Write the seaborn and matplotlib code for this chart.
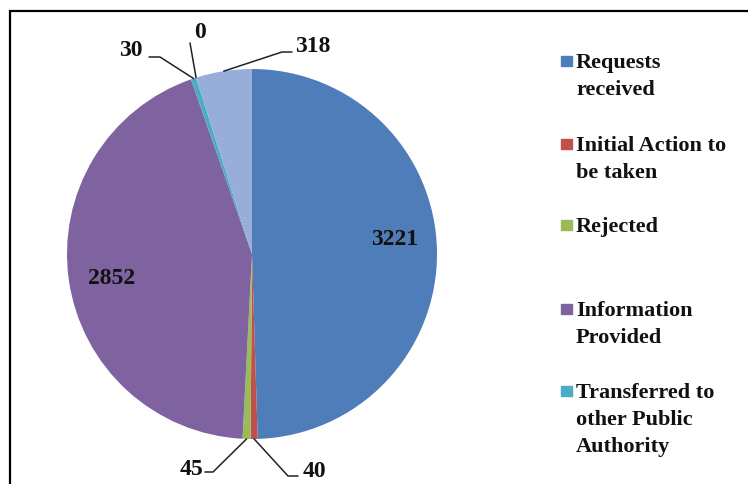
import numpy as np
import matplotlib
matplotlib.use("Agg")
import matplotlib.pyplot as plt
import seaborn as sns
from matplotlib.patches import Rectangle

# =========================
# DATA
# =========================

categories = ["Requests received", "Initial Action to be taken", "Rejected",
              "Information Provided", "Transferred to other Public Authority",
              "Pending", "Others"]
values = [3221, 40, 45, 2852, 30, 0, 318]
colors = ["#4F7DBA", "#C0504D", "#9BBB59", "#7F63A1", "#4BACC6", "#F79646", "#97AED8"]

# legend text as wrapped in the reference (only first five shown)
legend_lines = [["Requests", "received"],
                ["Initial Action to", "be taken"],
                ["Rejected"],
                ["Information", "Provided"],
                ["Transferred to", "other Public", "Authority"]]
legend_y = [62, 145, 226, 310, 392]   # pixel rows of first line

# label layout (pixels): text centre, and elbow of the leader line (None = inside)
label_pos = {3221: (395, 240), 40: (314, 472), 45: (191, 470),
             2852: (112, 278), 30: (131, 50), 0: (200, 33), 318: (313, 47)}
leader_elbows = {40: [(288, 477), (298, 477)], 45: [(213, 473), (205, 473)],
                 30: [(160, 58), (149, 58)], 0: [(190, 44)],
                 318: [(282, 53), (292, 53)]}

# =========================
# FIGURE
# =========================

sns.set_style("white")
plt.rcParams['font.family'] = ['Liberation Serif', 'DejaVu Serif']

W, H = 748, 485
fig = plt.figure(figsize=(W / 100, H / 100), dpi=100)

cx, cy, r = 252, 255, 185
ax = fig.add_axes([(cx - r) / W, (H - cy - r) / H, 2 * r / W, 2 * r / H])

wedges, _ = ax.pie(values, colors=colors, startangle=90, counterclock=False,
                   radius=1, wedgeprops=dict(linewidth=0))
ax.set_xlim(-1, 1)
ax.set_ylim(-1, 1)
ax.set_aspect("auto")
ax.axis("off")


def to_data(p):
    return ((p[0] - cx) / r, (cy - p[1]) / r)


font = dict(family=['Liberation Serif'], weight='bold', fontsize=17, color='#111111')

for w, v in zip(wedges, values):
    tx, ty = to_data(label_pos[v])
    ax.text(tx, ty, str(v), ha='center', va='center', **font)
    if v in leader_elbows:
        ang = np.deg2rad((w.theta1 + w.theta2) / 2)
        pts = [(np.cos(ang), np.sin(ang))] + [to_data(p) for p in leader_elbows[v]]
        xs, ys = zip(*pts)
        ax.plot(xs, ys, color='#222222', lw=1.1, clip_on=False)

# legend drawn manually to follow the reference spacing
for i, lines in enumerate(legend_lines):
    y0 = legend_y[i]
    fig.patches.append(Rectangle((561 / W, (H - y0 - 5) / H), 11 / W, 10 / H,
                                 transform=fig.transFigure, color=colors[i]))
    for j, line in enumerate(lines):
        fig.text(576 / W, (H - y0 - 1 - j * 27) / H, line, ha='left', va='center',
                 family=['Liberation Serif'], weight='bold', fontsize=16,
                 color='#111111')

# outer frame (cut off at right and bottom like the reference)
fig.patches.append(Rectangle((10 / W, -0.1), 1.2, (H - 12) / H + 0.1,
                             transform=fig.transFigure, fill=False,
                             edgecolor='black', lw=1.6))

fig.savefig("out.png", dpi=100)
